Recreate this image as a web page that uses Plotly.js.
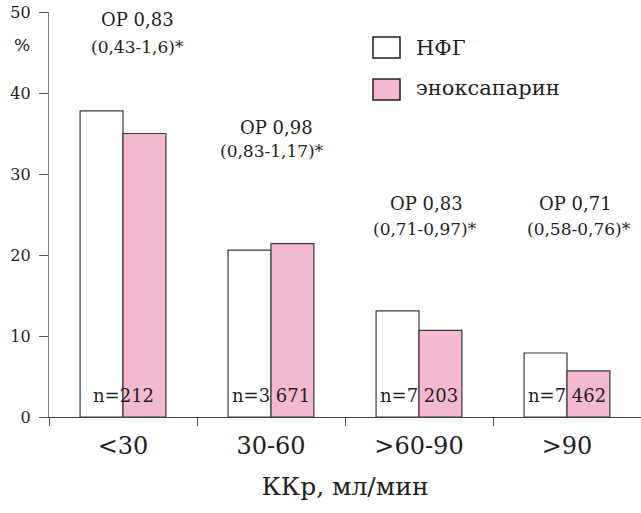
<!DOCTYPE html>
<html>
<head>
<meta charset="utf-8">
<script src="https://cdn.plot.ly/plotly-3.0.1.min.js"></script>
<style>body{margin:0;padding:0;background:#fff}#chart{width:641px;height:513px}</style>
</head>
<body>
<div id="chart"></div>
<script>
var categories = ['<30', '30-60', '>60-90', '>90'];
var seriesNames = ['НФГ', 'эноксапарин'];
var ufhValues = [37.8, 20.6, 13.1, 7.9];
var enoxValues = [35.0, 21.4, 10.7, 5.7];
var nLabels = ['n=212', 'n=3 671', 'n=7 203', 'n=7 462'];
var orLabels = ['OP 0,83', 'OP 0,98', 'OP 0,83', 'OP 0,71'];
var ciLabels = ['(0,43-1,6)*', '(0,83-1,17)*', '(0,71-0,97)*', '(0,58-0,76)*'];
var orY = [49.1, 35.8, 26.3, 26.3];
var ciY = [45.7, 32.8, 23.2, 23.2];
var orDx = [0.1, 0.04, 0.05, 0.06];
var ciDx = [0.1, 0.01, 0.04, 0.08];

var FONT = 'DejaVu Serif';
var TXT = '#231f20';
var PINK = '#f4b8d3';

var traces = [
  {type: 'bar', name: seriesNames[0], x: categories, y: ufhValues,
   marker: {color: '#ffffff', line: {color: '#3a3a3a', width: 1.2}}, hoverinfo: 'none'},
  {type: 'bar', name: seriesNames[1], x: categories, y: enoxValues,
   marker: {color: PINK, line: {color: '#3a3a3a', width: 1.2}}, hoverinfo: 'none'}
];

var annotations = [];
categories.forEach(function (c, i) {
  annotations.push({xref: 'x', yref: 'y', x: i, y: 2.7, text: nLabels[i], showarrow: false,
    xanchor: 'center', yanchor: 'middle', font: {family: FONT, size: 18, color: TXT}});
  annotations.push({xref: 'x', yref: 'y', x: i + orDx[i], y: orY[i], text: orLabels[i], showarrow: false,
    xanchor: 'center', yanchor: 'middle', font: {family: FONT, size: 18, color: TXT}});
  annotations.push({xref: 'x', yref: 'y', x: i + ciDx[i], y: ciY[i], text: ciLabels[i], showarrow: false,
    xanchor: 'center', yanchor: 'middle', font: {family: FONT, size: 17, color: TXT}});
});
annotations.push({xref: 'paper', yref: 'paper', x: -0.046, y: 0.918, text: '%', showarrow: false,
  xanchor: 'center', yanchor: 'middle', font: {family: FONT, size: 17, color: TXT}});
// legend texts
annotations.push({xref: 'paper', yref: 'paper', x: (414 - 49) / 592, y: (417 - 48) / 405, text: seriesNames[0],
  showarrow: false, xanchor: 'left', yanchor: 'middle', font: {family: FONT, size: 21, color: TXT}});
annotations.push({xref: 'paper', yref: 'paper', x: (414 - 49) / 592, y: (417 - 88) / 405, text: seriesNames[1],
  showarrow: false, xanchor: 'left', yanchor: 'middle', font: {family: FONT, size: 21, color: TXT}});

function px2x(p) { return (p - 49) / 592; }
function px2y(p) { return (417 - p) / 405; }
var shapes = [
  {type: 'rect', xref: 'paper', yref: 'paper', x0: px2x(373), x1: px2x(400), y0: px2y(58), y1: px2y(37),
   fillcolor: '#ffffff', line: {color: '#231f20', width: 1.5}},
  {type: 'rect', xref: 'paper', yref: 'paper', x0: px2x(373), x1: px2x(400), y0: px2y(100), y1: px2y(79),
   fillcolor: PINK, line: {color: '#231f20', width: 1.5}}
];

var layout = {
  width: 641, height: 513,
  margin: {l: 49, r: 0, t: 12, b: 96, pad: 0},
  paper_bgcolor: '#ffffff', plot_bgcolor: '#ffffff',
  showlegend: false,
  barmode: 'group', bargap: 0.42, bargroupgap: 0,
  font: {family: FONT, color: TXT},
  xaxis: {
    type: 'category', range: [-0.5, 3.5], tickson: 'boundaries',
    ticks: 'outside', ticklen: 8, tickwidth: 1, tickcolor: '#555',
    showline: true, linecolor: '#444', linewidth: 1.2, showgrid: false, zeroline: false,
    tickfont: {family: FONT, size: 24, color: TXT}, ticklabelstandoff: 7,
    title: {text: 'ККр, мл/мин', font: {family: FONT, size: 25, color: TXT}, standoff: 18}
  },
  yaxis: {
    range: [0, 50], dtick: 10, tick0: 0,
    ticks: 'outside', ticklen: 9, tickwidth: 1, tickcolor: '#555',
    showline: true, linecolor: '#808080', linewidth: 1.2, showgrid: false, zeroline: false,
    tickfont: {family: FONT, size: 16, color: TXT}, ticklabelstandoff: 5
  },
  annotations: annotations,
  shapes: shapes
};

Plotly.newPlot('chart', traces, layout, {staticPlot: true, displayModeBar: false});
</script>
</body>
</html>
